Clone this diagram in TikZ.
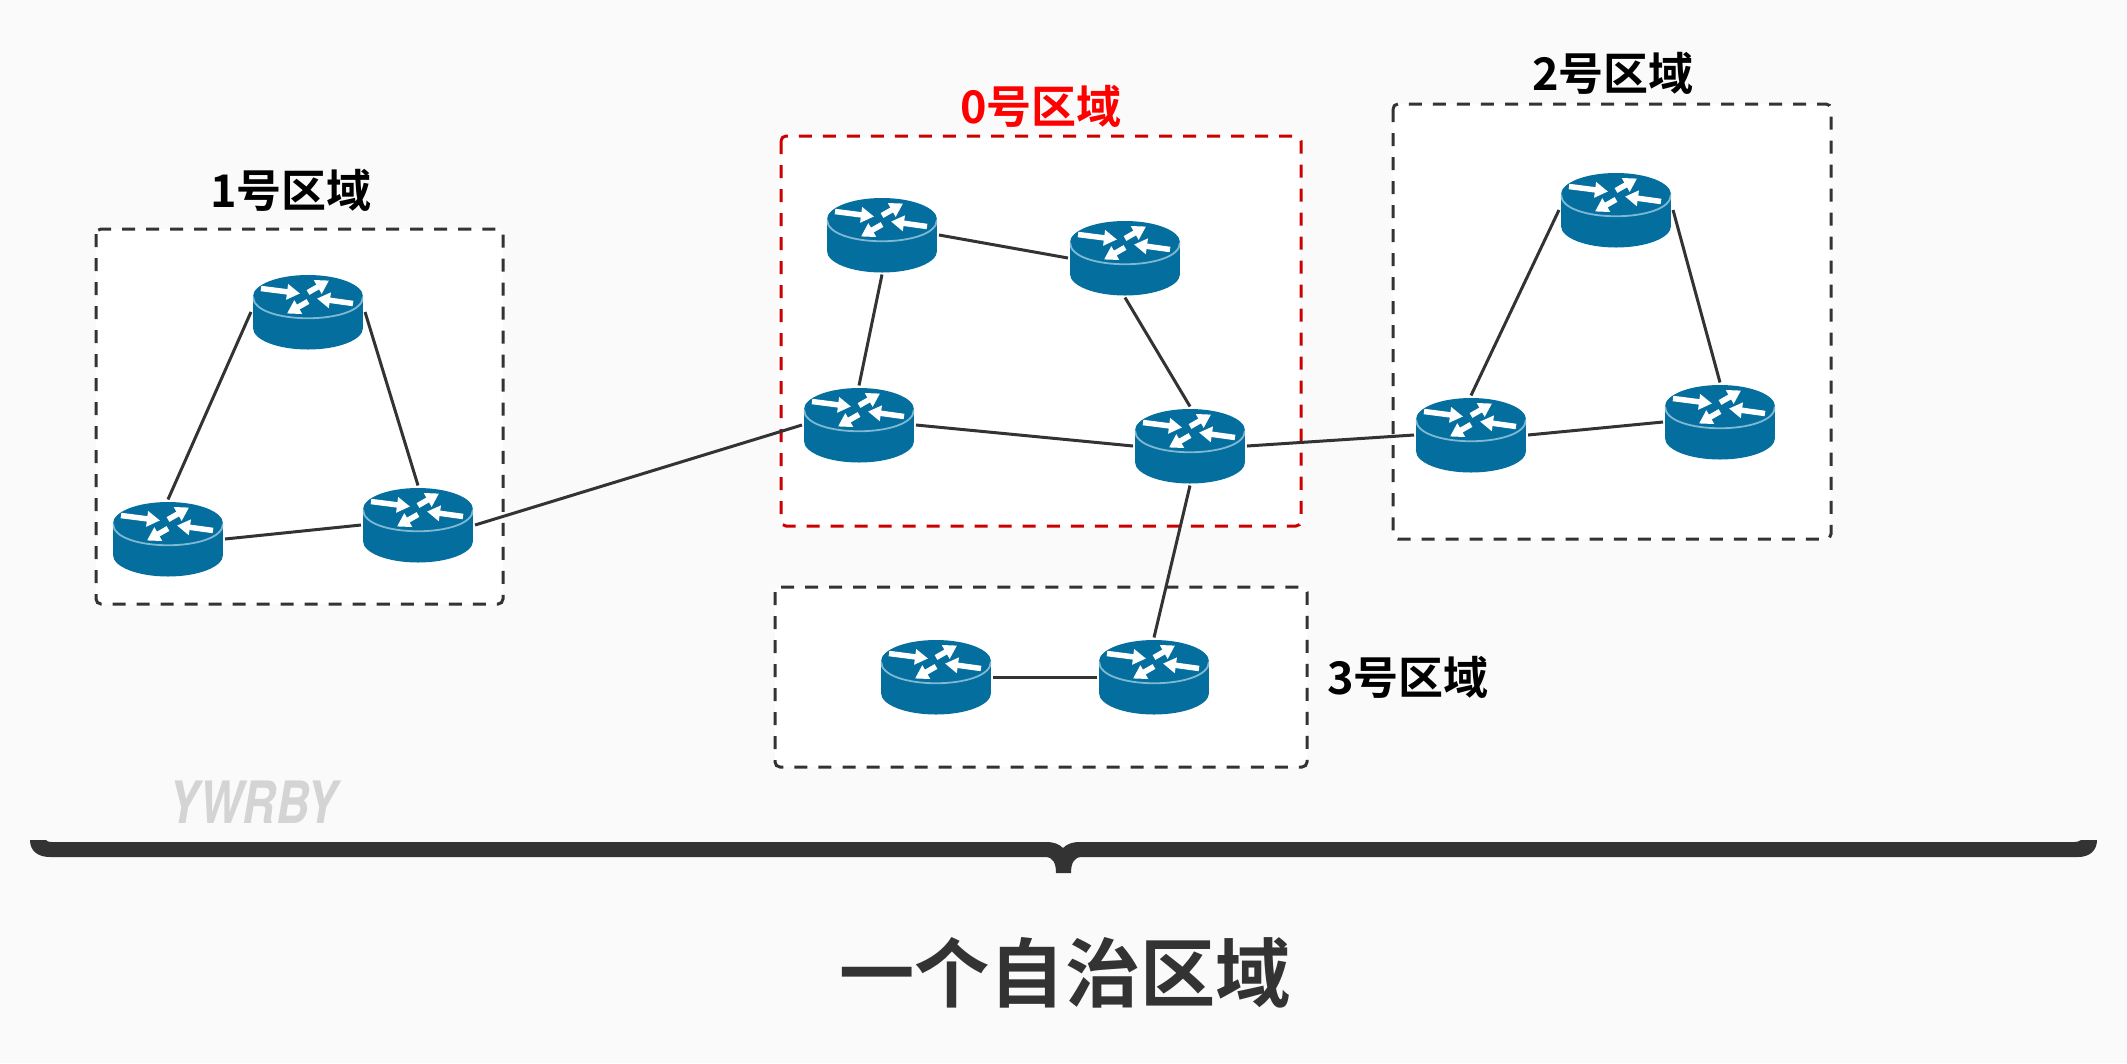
\documentclass[tikz,border=0pt]{standalone}
\usepackage{fontspec}
\newfontfamily\cjkbold{Noto Sans CJK SC Bold}
\newfontfamily\markfont[FakeStretch=0.79]{TeX Gyre Heros}
\usetikzlibrary{arrows.meta}
\definecolor{pagebg}{HTML}{FAFAFA}
\definecolor{routerblue}{HTML}{046E9E}
\definecolor{routerrim}{HTML}{7FB8D2}
\definecolor{darkline}{HTML}{333333}
\definecolor{areared}{HTML}{CC0000}
\tikzset{
    router/.style={rectangle, minimum width=1.1cm, minimum height=0.75cm, inner sep=0pt, outer sep=0.02cm,
        path picture={
            \begin{scope}[shift={(path picture bounding box.center)}]
                % corpo e tampa
                \fill[routerblue] (0,16) ellipse (55 and 21.5);
                \fill[routerblue] (-55,-15.5) rectangle (55,16);
                \fill[routerblue] (0,-15.5) ellipse (55 and 21.5);
                \draw[routerrim, line width=0.018cm] (-55,-15.5) .. controls (-55,13.5) and (55,13.5) .. (55,-15.5);
                % setas
                \draw[routerarrow] (-47,-23.5) -- (-8,-18.5);
                \draw[routerarrow] (0,-19.5) -- (21,-31.5);
                \draw[routerarrow] (45,-8.5) -- (9,-13.5);
                \draw[routerarrow] (0,-10.5) -- (-21,1.5);
            \end{scope}
        }},
    routerarrow/.style={white, line width=0.055cm, -{Triangle[length=0.13cm, width=0.15cm]}},
    link/.style={darkline, line width=0.03cm},
    areabox/.style={fill=white, draw=darkline, line width=0.03cm, rounded corners=0.05cm, dash pattern=on 0.13cm off 0.11cm},
    arealabel/.style={font=\cjkbold\fontsize{12.8pt}{15pt}\selectfont, inner sep=0pt}
}
\begin{document}
\begin{tikzpicture}[x=0.01cm, y=-0.01cm]
    \useasboundingbox (0,0) rectangle (2127,1063);
    \fill[pagebg] (0,0) rectangle (2127,1063);

    % --- Caixas das areas ---
    \draw[areabox] (96,229) rectangle (503,604);
    \draw[areabox, draw=areared] (781,136) rectangle (1301,526);
    \draw[areabox] (1393,104) rectangle (1831,539);
    \draw[areabox] (775,587) rectangle (1307,767);

    % --- Textos das areas ---
    \node[arealabel] (labelA) at (291,190) {1号区域};
    \node[arealabel, text=red] (labelB) at (1041,106) {0号区域};
    \node[arealabel] (labelC) at (1613,73) {2号区域};
    \node[arealabel] (labelD) at (1408,677) {3号区域};

    % --- Roteadores ---
    \node[router] (aTop) at (308,312) {};
    \node[router] (aLeft) at (168,539) {};
    \node[router] (aRight) at (418,525) {};

    \node[router] (bNw) at (882,235) {};
    \node[router] (bNe) at (1125,258) {};
    \node[router] (bSw) at (859,425) {};
    \node[router] (bSe) at (1190,446) {};

    \node[router] (cTop) at (1616,210) {};
    \node[router] (cLeft) at (1471,435) {};
    \node[router] (cRight) at (1720,422) {};

    \node[router] (dLeft) at (936,677) {};
    \node[router] (dRight) at (1154,677) {};

    % --- Ligacoes ---
    \draw[link] (aTop.west) -- (aLeft.north);
    \draw[link] (aTop.east) -- (aRight.north);
    \draw[link] (aLeft.east) -- (aRight.west);
    \draw[link] (aRight.east) -- (bSw.west);

    \draw[link] (bNw.east) -- (bNe.west);
    \draw[link] (bNw.south) -- (bSw.north);
    \draw[link] (bNe.south) -- (bSe.north);
    \draw[link] (bSw.east) -- (bSe.west);
    \draw[link] (bSe.east) -- (cLeft.west);
    \draw[link] (bSe.south) -- (dRight.north);

    \draw[link] (cTop.west) -- (cLeft.north);
    \draw[link] (cTop.east) -- (cRight.north);
    \draw[link] (cLeft.east) -- (cRight.west);

    \draw[link] (dLeft.east) -- (dRight.west);

    % --- Marca e chave inferior ---
    \node[font=\markfont\bfseries\itshape\fontsize{16.6pt}{18pt}\selectfont, text=black!17, inner sep=0pt] (markText) at (253,802) {YWRBY};

    \fill[darkline] (30,840) -- (46,840) .. controls (47,841) and (48,842) .. (52,842)
        -- (1046,842) .. controls (1054,842) and (1059,844) .. (1063,848)
        .. controls (1067,844) and (1072,842) .. (1080,842)
        -- (2074,842) .. controls (2078,842) and (2079,841) .. (2081,840) -- (2097,840)
        .. controls (2097,851) and (2089,857) .. (2078,857)
        -- (1082,857) .. controls (1074,857) and (1071,863) .. (1071,873)
        -- (1056,873) .. controls (1056,863) and (1053,857) .. (1045,857)
        -- (50,857) .. controls (38,857) and (30,851) .. (30,840) -- cycle;

    % --- Titulo ---
    \node[font=\cjkbold\fontsize{21.4pt}{26pt}\selectfont, text=darkline, inner sep=0pt] (mainTitle) at (1065,973) {一个自治区域};
\end{tikzpicture}
\end{document}
